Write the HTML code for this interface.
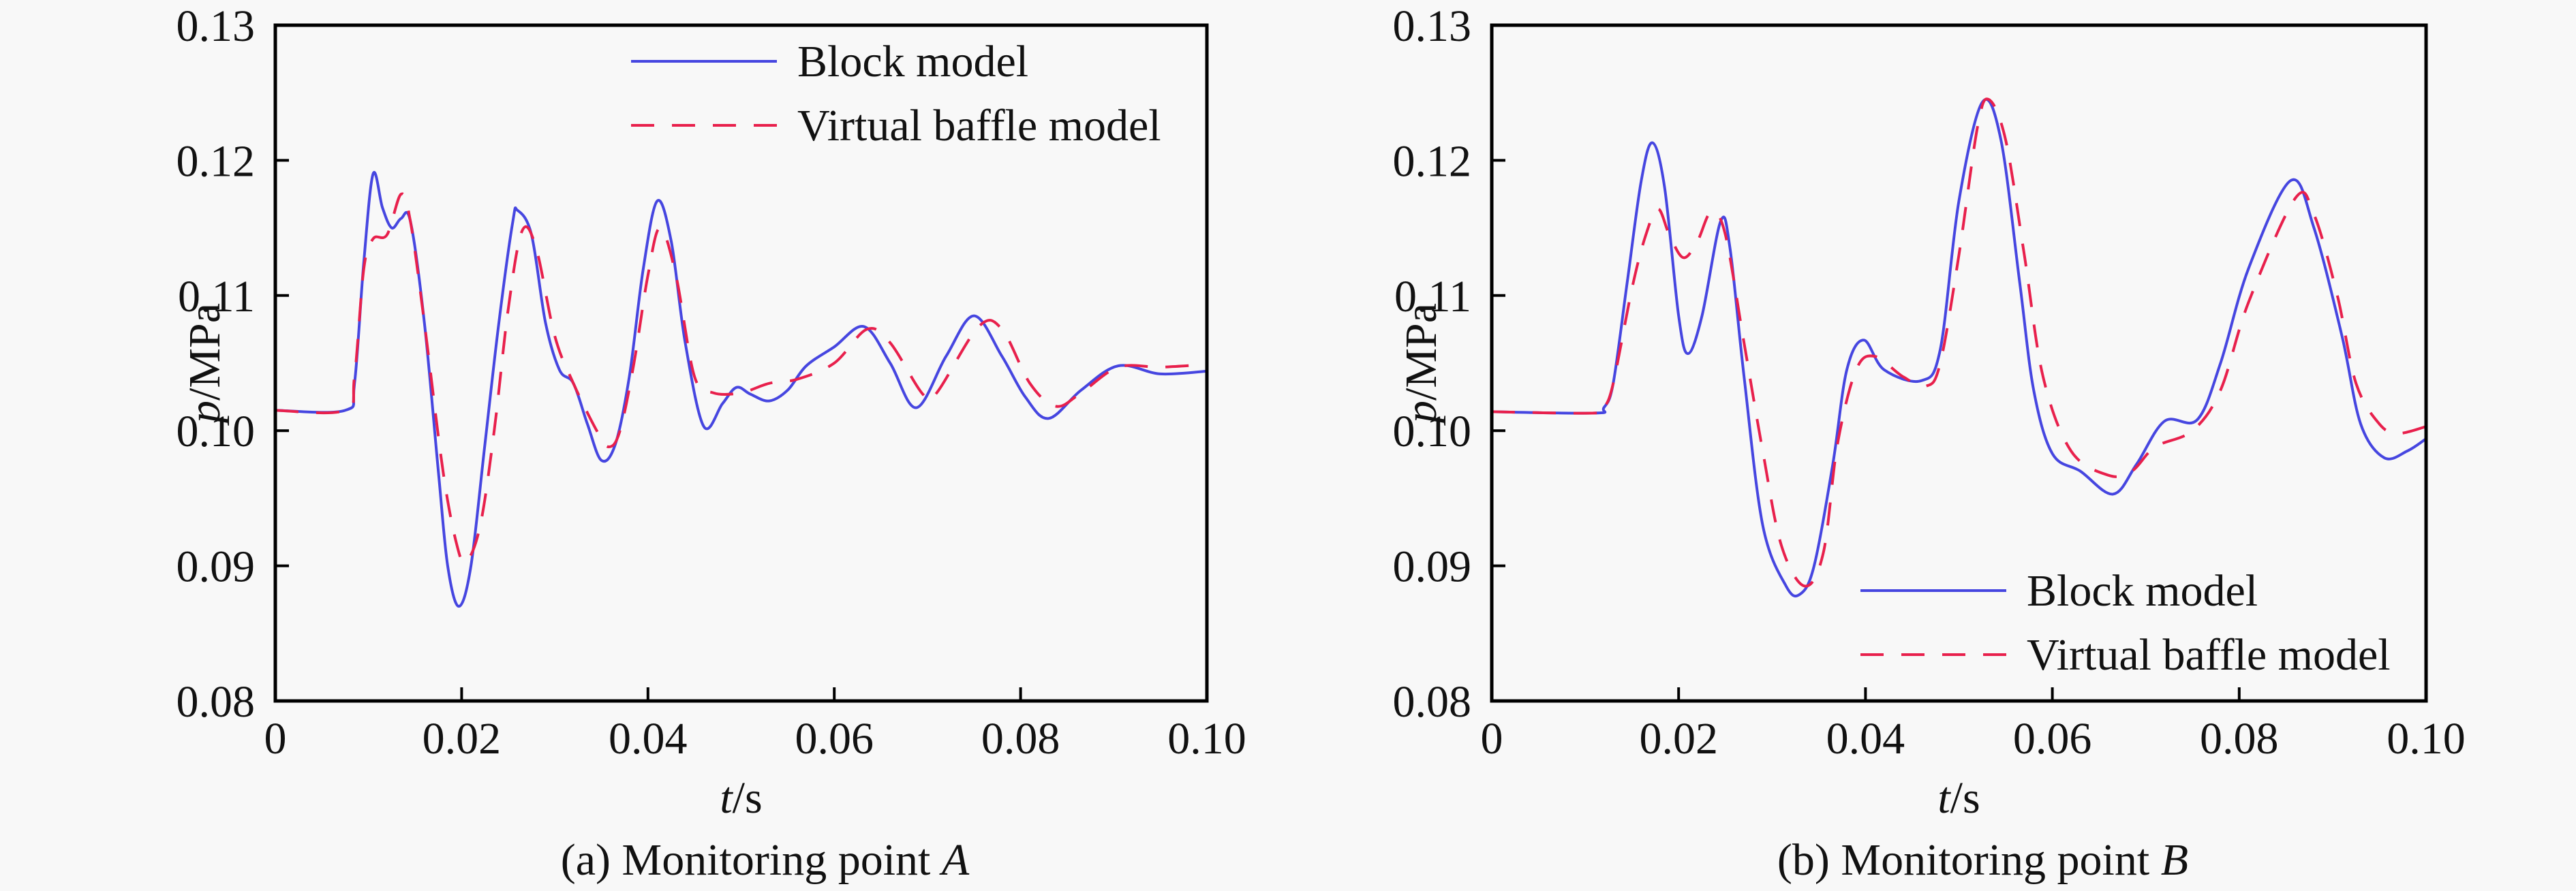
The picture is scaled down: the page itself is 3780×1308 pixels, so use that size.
<!DOCTYPE html>
<html><head><meta charset="utf-8">
<style>
html,body{margin:0;padding:0;background:#f8f8f8;}
svg{display:block;font-family:"Liberation Serif",serif;}
</style></head>
<body>
<svg id="fig" width="3780" height="1308" viewBox="0 0 3780 1308" xmlns="http://www.w3.org/2000/svg">
<rect x="0" y="0" width="3780" height="1308" fill="#f8f8f8"/>
</svg>
<script>
const xTicks=[0,0.02,0.04,0.06,0.08,0.10];
const xTickLabels=["0","0.02","0.04","0.06","0.08","0.10"];
const yTicks=[0.08,0.09,0.10,0.11,0.12,0.13];
const yTickLabels=["0.08","0.09","0.10","0.11","0.12","0.13"];
const seriesNames=["Block model","Virtual baffle model"];

const aBlockT=[0,0.0075,0.0085,0.0095,0.0105,0.0115,0.0125,0.0135,0.0145,0.016,0.0175,0.0185,0.0197,0.021,0.0225,0.024,0.0255,0.026,0.0275,0.029,0.0305,0.032,0.0335,0.035,0.0365,0.038,0.0395,0.041,0.0425,0.044,0.046,0.048,0.0495,0.051,0.053,0.055,0.057,0.060,0.0632,0.066,0.0688,0.072,0.075,0.078,0.0805,0.083,0.0865,0.0905,0.095,0.100];
const aBlockP=[0.1015,0.1015,0.1035,0.1125,0.119,0.1165,0.1150,0.1157,0.1155,0.108,0.097,0.090,0.0870,0.090,0.099,0.108,0.1155,0.1163,0.1145,0.108,0.1045,0.1035,0.1005,0.0978,0.099,0.104,0.112,0.117,0.114,0.1065,0.1003,0.102,0.1032,0.1027,0.1022,0.1030,0.1048,0.1062,0.1077,0.1050,0.1017,0.1055,0.1085,0.1055,0.1025,0.1009,0.1030,0.1048,0.1042,0.1044];
const aVirtT=[0,0.0075,0.0085,0.0095,0.0105,0.012,0.0135,0.0145,0.016,0.018,0.0195,0.0205,0.022,0.0235,0.025,0.0265,0.028,0.030,0.032,0.0345,0.0358,0.037,0.0385,0.040,0.0413,0.043,0.045,0.047,0.050,0.053,0.056,0.060,0.0635,0.066,0.0695,0.071,0.0755,0.078,0.081,0.0838,0.0865,0.0905,0.095,0.100];
const aVirtP=[0.1015,0.1015,0.104,0.112,0.1142,0.1145,0.1175,0.1155,0.108,0.097,0.0915,0.0903,0.093,0.100,0.109,0.1148,0.1135,0.107,0.1035,0.1000,0.0988,0.100,0.105,0.1115,0.115,0.1115,0.104,0.1028,0.1028,0.1035,0.1038,0.105,0.1075,0.1065,0.1027,0.1028,0.1077,0.1075,0.1035,0.1018,0.1028,0.1047,0.1047,0.1049];

const bBlockT=[0,0.011,0.012,0.013,0.0145,0.016,0.0172,0.0185,0.020,0.021,0.0225,0.0245,0.0255,0.027,0.029,0.0315,0.033,0.0345,0.0365,0.038,0.0398,0.042,0.046,0.048,0.050,0.0525,0.0545,0.0565,0.058,0.060,0.063,0.0665,0.069,0.072,0.0755,0.078,0.081,0.0855,0.088,0.091,0.093,0.0955,0.098,0.100];
const bBlockP=[0.1014,0.1013,0.1017,0.1035,0.111,0.1185,0.1213,0.118,0.1085,0.1057,0.1085,0.1155,0.1135,0.104,0.093,0.0885,0.0879,0.090,0.0975,0.1045,0.1067,0.1045,0.1037,0.106,0.117,0.1243,0.1215,0.111,0.103,0.0983,0.0970,0.0953,0.0975,0.1007,0.1008,0.105,0.112,0.1185,0.115,0.107,0.1005,0.0980,0.0985,0.0994];
const bVirtT=[0,0.011,0.012,0.013,0.015,0.0165,0.0178,0.019,0.0205,0.022,0.0235,0.025,0.027,0.029,0.031,0.0335,0.0355,0.037,0.039,0.041,0.044,0.0465,0.048,0.050,0.052,0.0532,0.055,0.057,0.059,0.062,0.066,0.0685,0.071,0.075,0.078,0.081,0.086,0.088,0.0905,0.0925,0.095,0.097,0.100];
const bVirtP=[0.1014,0.1013,0.1017,0.1035,0.1105,0.1145,0.1164,0.1145,0.1128,0.114,0.1162,0.1145,0.1065,0.0985,0.0915,0.0885,0.091,0.099,0.1045,0.1055,0.104,0.1033,0.105,0.113,0.1225,0.1245,0.1215,0.113,0.104,0.0985,0.0967,0.0970,0.0988,0.1000,0.103,0.1095,0.1172,0.116,0.110,0.1035,0.1005,0.0998,0.1003];

const NS="http://www.w3.org/2000/svg";
const svg=document.getElementById('fig');
function mk(tag,attrs,parent){const e=document.createElementNS(NS,tag);for(const k in attrs)e.setAttribute(k,attrs[k]);(parent||svg).appendChild(e);return e;}

function smoothPath(pts){
  let d="M"+pts[0][0].toFixed(1)+","+pts[0][1].toFixed(1);
  for(let i=0;i<pts.length-1;i++){
    const p0=pts[Math.max(0,i-1)],p1=pts[i],p2=pts[i+1],p3=pts[Math.min(pts.length-1,i+2)];
    const c1x=p1[0]+(p2[0]-p0[0])/6,c1y=p1[1]+(p2[1]-p0[1])/6;
    const c2x=p2[0]-(p3[0]-p1[0])/6,c2y=p2[1]-(p3[1]-p1[1])/6;
    d+=" C"+c1x.toFixed(1)+","+c1y.toFixed(1)+" "+c2x.toFixed(1)+","+c2y.toFixed(1)+" "+p2[0].toFixed(1)+","+p2[1].toFixed(1);
  }
  return d;
}

function panel(opt){
  const L=opt.left,R=opt.right,T=37,B=1029;
  const sx=v=>L+(v-0)/(0.10-0)*(R-L);
  const sy=v=>B-(v-0.08)/(0.13-0.08)*(B-T);
  const g=mk('g',{});
  
  
  const blue=mk('path',{d:smoothPath(opt.bt.map((t,i)=>[sx(t),sy(opt.bp[i])])),fill:'none',stroke:'#4646e0','stroke-width':4,'stroke-linejoin':'round'},g);
  
  
  const red=mk('path',{d:smoothPath(opt.vt.map((t,i)=>[sx(t),sy(opt.vp[i])])),fill:'none',stroke:'#e8204c','stroke-width':4,'stroke-dasharray':'34 26'},g);
  
  
  const fr=mk('rect',{x:L,y:T,width:R-L,height:B-T,fill:'none',stroke:'#000','stroke-width':5},g);
  
  
  xTicks.forEach((v,i)=>{
    const x=sx(v);
    const tk=mk('line',{x1:x,y1:B,x2:x,y2:B-20,stroke:'#000','stroke-width':4},g);
    
    
    const tx=mk('text',{x:x,y:1106,'font-size':66,'text-anchor':'middle',fill:'#111'},g);
    tx.textContent=xTickLabels[i];
    
    
  });
  yTicks.forEach((v,i)=>{
    const y=sy(v);
    const tk=mk('line',{x1:L,y1:y,x2:L+20,y2:y,stroke:'#000','stroke-width':4},g);
    
    
    const tx=mk('text',{x:L-30,y:y+23,'font-size':66,'text-anchor':'end',fill:'#111'},g);
    tx.textContent=yTickLabels[i];
    
    
  });
  const yt=mk('text',{x:0,y:0,'font-size':66,'text-anchor':'middle',fill:'#111',transform:'translate('+(L-82)+',533) rotate(-90)'},g);
  yt.innerHTML='<tspan font-style="italic">p</tspan>/MPa';
  
  
  const xt=mk('text',{x:(L+R)/2,y:1193,'font-size':66,'text-anchor':'middle',fill:'#111'},g);
  xt.innerHTML='<tspan font-style="italic">t</tspan>/s';
  
  
  const cap=mk('text',{x:(L+R)/2+35,y:1284,'font-size':66,'text-anchor':'middle',fill:'#111'},g);
  cap.innerHTML=opt.caption+'<tspan font-style="italic">'+opt.pt+'</tspan>';
  
  
  const lg=mk('g',{},g);
  
  
  const ly=opt.legY;
  const l1=mk('line',{x1:opt.legX,y1:ly,x2:opt.legX+214,y2:ly,stroke:'#4646e0','stroke-width':4},lg);
  
  
  const t1=mk('text',{x:opt.legX+244,y:ly+22,'font-size':66,fill:'#111'},lg);
  t1.textContent=seriesNames[0];
  
  
  const l2=mk('line',{x1:opt.legX,y1:ly+94,x2:opt.legX+214,y2:ly+94,stroke:'#e8204c','stroke-width':4,'stroke-dasharray':'34 26'},lg);
  
  
  const t2=mk('text',{x:opt.legX+244,y:ly+116,'font-size':66,fill:'#111'},lg);
  t2.textContent=seriesNames[1];
  
  
}

panel({name:'panel-a',left:404,right:1771,bt:aBlockT,bp:aBlockP,vt:aVirtT,vp:aVirtP,caption:'(a) Monitoring point ',pt:'A',legX:926,legY:90});
panel({name:'panel-b',left:2189,right:3560,bt:bBlockT,bp:bBlockP,vt:bVirtT,vp:bVirtP,caption:'(b) Monitoring point ',pt:'B',legX:2730,legY:867});
</script>
</body></html>
